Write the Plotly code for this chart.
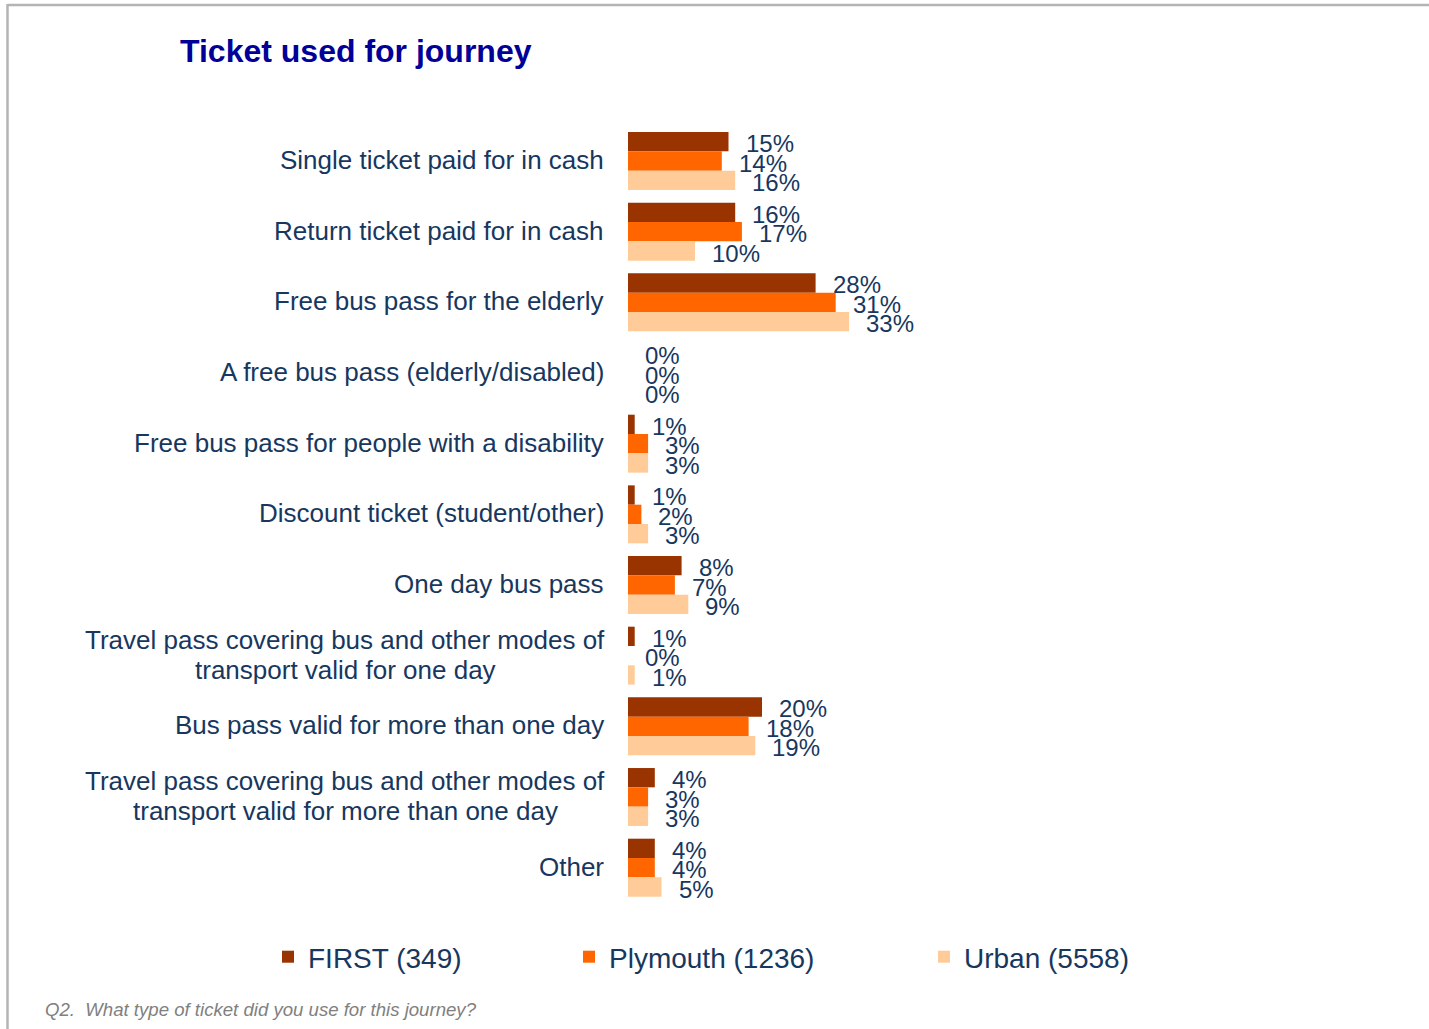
import plotly.graph_objects as go

# データ
categories = [
    "Single ticket paid for in cash",
    "Return ticket paid for in cash",
    "Free bus pass for the elderly",
    "A free bus pass (elderly/disabled)",
    "Free bus pass for people with a disability",
    "Discount ticket (student/other)",
    "One day bus pass",
    "Travel pass covering bus and other modes of<br>transport valid for one day",
    "Bus pass valid for more than one day",
    "Travel pass covering bus and other modes of<br>transport valid for more than one day",
    "Other",
]
first_vals = [15, 16, 28, 0, 1, 1, 8, 1, 20, 4, 4]
plymouth_vals = [14, 17, 31, 0, 3, 2, 7, 0, 18, 3, 4]
urban_vals = [16, 10, 33, 0, 3, 3, 9, 1, 19, 3, 5]
series_names = ["FIRST (349)", "Plymouth (1236)", "Urban (5558)"]
series_colors = ["#993300", "#FF6600", "#FFCC99"]

W, H = 1429, 1029
L, R, T, B = 628, 332, 124, 126
FONT = "Liberation Sans, Arial, sans-serif"
TEXT_COLOR = "#17375E"


def px_x(px):
    return (px - L) / (W - L - R)


def px_y(py):
    return (H - B - py) / (H - T - B)


fig = go.Figure()
all_vals = [first_vals, plymouth_vals, urban_vals]
legends = ["legend", "legend2", "legend3"]
for name, vals, color, lg in zip(series_names, all_vals, series_colors, legends):
    fig.add_trace(
        go.Bar(
            y=categories,
            x=vals,
            name=name,
            orientation="h",
            marker=dict(color=color, line=dict(width=0)),
            legend=lg,
            showlegend=True,
            hoverinfo="x+y",
        )
    )

# 値ラベル（棒の右側）
shifts = [19.5, 0, -19.5]
for vals, ys in zip(all_vals, shifts):
    for cat, v in zip(categories, vals):
        fig.add_annotation(
            x=v, y=cat, text=f"{v}%", showarrow=False,
            xanchor="left", xshift=15, yshift=ys - 2,
            font=dict(family=FONT, size=24, color=TEXT_COLOR),
        )

# カテゴリラベル（中央揃え、2行の場合は行間を詰める）
for cat in categories:
    lines = cat.split("<br>")
    for i, line in enumerate(lines):
        fig.add_annotation(
            x=0, xref="paper", y=cat, text=line, showarrow=False,
            xanchor="right" if len(lines) == 1 else "center",
            xshift=-22 if len(lines) == 1 else -22 - 261,
            yshift=(len(lines) - 1) * 15 - i * 30 + 1,
            font=dict(family=FONT, size=26, color=TEXT_COLOR),
        )

# 脚注
fig.add_annotation(
    x=px_x(43), y=px_y(1010), xref="paper", yref="paper",
    text="Q2.  What type of ticket did you use for this journey?",
    showarrow=False, xanchor="left", yanchor="middle",
    font=dict(family=FONT, size=18.6, color="#808080", style="italic"),
)

# 枠線
border = dict(color="#B4B4B4", width=2.5)
fig.add_shape(type="line", xref="paper", yref="paper",
              x0=px_x(7.5), x1=px_x(W + 5), y0=px_y(5), y1=px_y(5), line=border)
fig.add_shape(type="line", xref="paper", yref="paper",
              x0=px_x(7.5), x1=px_x(7.5), y0=px_y(4), y1=px_y(H + 5), line=border)

legend_style = dict(
    orientation="h", yanchor="middle", xanchor="left",
    font=dict(family=FONT, size=28, color=TEXT_COLOR),
    bgcolor="rgba(0,0,0,0)",
)
fig.update_layout(
    width=W,
    height=H,
    margin=dict(l=L, r=R, t=T, b=B),
    paper_bgcolor="white",
    plot_bgcolor="white",
    barmode="group",
    bargap=0.18,
    bargroupgap=0,
    showlegend=True,
    title=dict(
        text="<b>Ticket used for journey</b>",
        x=180 / W, xanchor="left", xref="container",
        y=1 - 51 / H, yanchor="middle", yref="container",
        font=dict(family=FONT, size=32, color="#000099"),
    ),
    xaxis=dict(range=[0, 70], visible=False, fixedrange=True),
    yaxis=dict(
        autorange="reversed", showticklabels=False, showgrid=False,
        zeroline=False, showline=False, ticks="",
    ),
    legend=dict(x=px_x(268), y=px_y(957), **legend_style),
    legend2=dict(x=px_x(569), y=px_y(957), **legend_style),
    legend3=dict(x=px_x(924), y=px_y(957), **legend_style),
)

# ページ余白を消して図を左上に揃える
fig.write_html(
    "out.html",
    config={"displayModeBar": False},
    post_script="document.body.style.margin='0';",
)
